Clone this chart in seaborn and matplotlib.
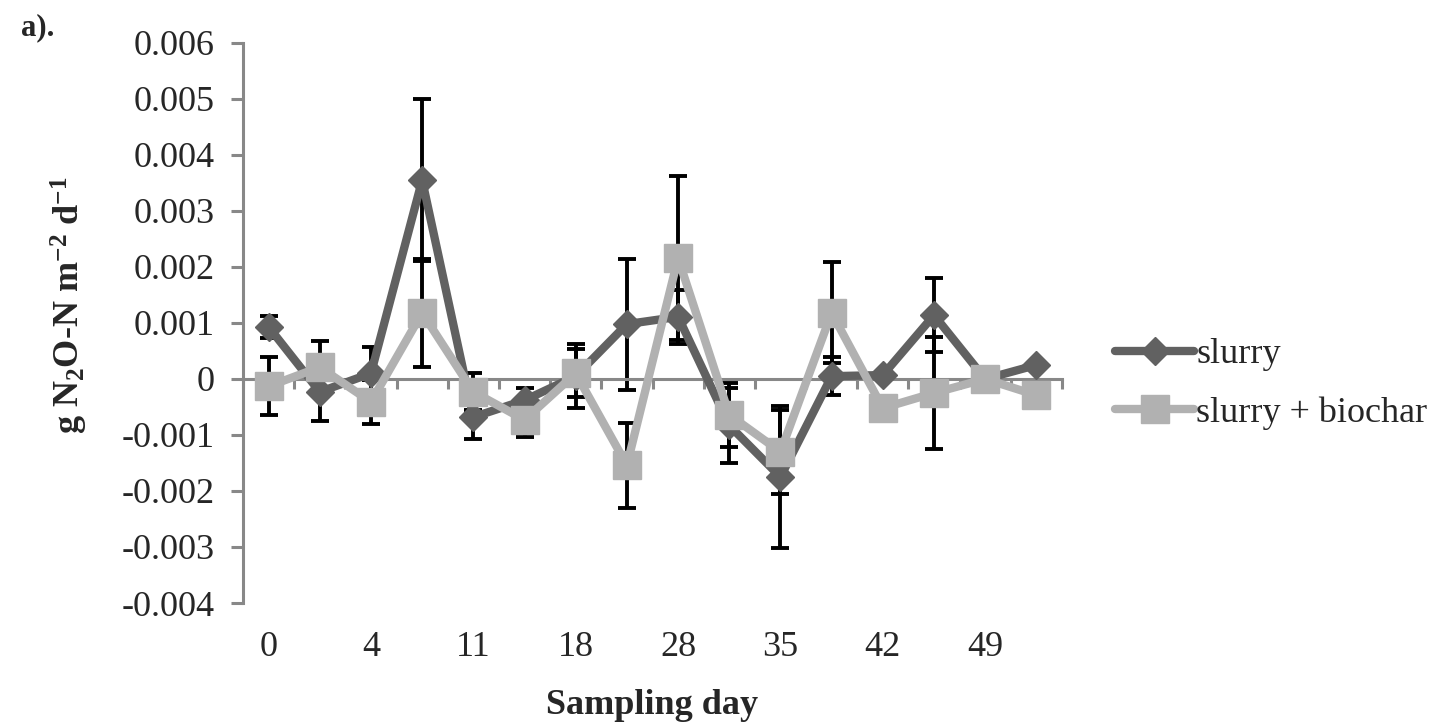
import numpy as np
import pandas as pd
import matplotlib
matplotlib.use("Agg")
import matplotlib.pyplot as plt
import seaborn as sns

########## Data ##########

# sampling day labels (only every second one is printed on the axis)
day_labels = ["0", "", "4", "", "11", "", "18", "", "28", "", "35", "", "42", "", "49", ""]

slurry = [0.00093, -0.00023, 0.00010, 0.00355, -0.00068, -0.00038, 0.00005, 0.00098,
          0.00111, -0.00083, -0.00175, 0.00005, 0.00007, 0.00114, 0.00000, 0.00025]
slurry_err = [0.00020, 0.00052, 0.00047, 0.00145, 0.00040, 0.00022, 0.00057, 0.00117,
              0.00048, 0.00067, 0.00127, 0.00034, 0.0, 0.00066, 0.0, 0.0]

biochar = [-0.00013, 0.00021, -0.00041, 0.00118, -0.00023, -0.00073, 0.00010, -0.00154,
           0.00216, -0.00064, -0.00130, 0.00118, -0.00052, -0.00025, 0.00000, -0.00029]
biochar_err = [0.00052, 0.00047, 0.00039, 0.00097, 0.00033, 0.00031, 0.00043, 0.00076,
               0.00146, 0.00057, 0.00075, 0.00090, 0.0, 0.00100, 0.0, 0.0]

y_ticks = [-0.004, -0.003, -0.002, -0.001, 0, 0.001, 0.002, 0.003, 0.004, 0.005, 0.006]
y_tick_labels = ["-0.004", "-0.003", "-0.002", "-0.001", "0", "0.001", "0.002",
                 "0.003", "0.004", "0.005", "0.006"]

########## Style ##########

sns.set_style("white")
plt.rcParams["font.family"] = ["Liberation Serif", "DejaVu Serif"]
plt.rcParams["mathtext.fontset"] = "custom"
plt.rcParams["mathtext.rm"] = "Liberation Serif"
plt.rcParams["mathtext.it"] = "Liberation Serif:italic"
plt.rcParams["mathtext.bf"] = "Liberation Serif:bold"
plt.rcParams["axes.unicode_minus"] = False
plt.rcParams["font.size"] = 26

axis_grey = "#888888"
dark = "#616161"
light = "#b1b1b1"

pos = np.arange(len(day_labels))
frame = pd.DataFrame({"pos": pos, "slurry": slurry, "biochar": biochar})

########## Plot ##########

fig, ax = plt.subplots(figsize=(14.4, 7.28), dpi=100)
fig.subplots_adjust(left=0.16875, right=0.7375, top=0.941, bottom=0.1717)

ax.errorbar(pos, slurry, yerr=slurry_err, fmt="none", ecolor="black",
            elinewidth=2.8, capsize=6.5, capthick=2.8, zorder=2)
ax.errorbar(pos, biochar, yerr=biochar_err, fmt="none", ecolor="black",
            elinewidth=2.8, capsize=6.5, capthick=2.8, zorder=2)

sns.lineplot(data=frame, x="pos", y="slurry", ax=ax, color=dark, linewidth=6,
             marker="D", markersize=14, markeredgecolor=dark, markeredgewidth=1,
             label="slurry", zorder=3)
sns.lineplot(data=frame, x="pos", y="biochar", ax=ax, color=light, linewidth=6,
             marker="s", markersize=20, markeredgecolor=light, markeredgewidth=1,
             label="slurry + biochar", zorder=4)

ax.set_xlim(-0.5, len(day_labels) - 0.5)
ax.set_ylim(-0.004, 0.006)

# axes lines: x axis crosses at zero, labels stay at the bottom
for side in ["top", "right"]:
    ax.spines[side].set_visible(False)
ax.spines["bottom"].set_position(("data", 0))
ax.spines["bottom"].set_color(axis_grey)
ax.spines["bottom"].set_linewidth(2.2)
ax.spines["left"].set_color(axis_grey)
ax.spines["left"].set_linewidth(2.2)

ax.set_xticks(np.arange(-0.5, len(day_labels), 1))
ax.set_xticklabels([])
ax.tick_params(axis="x", bottom=True, direction="out", length=7.5, width=2.2,
               color=axis_grey)
ax.set_xlabel("")

ax.set_yticks(y_ticks)
ax.set_yticklabels(y_tick_labels)
ax.tick_params(axis="y", left=True, direction="out", length=8.5, width=2.2,
               color=axis_grey, pad=12, labelsize=26)

sec = ax.secondary_xaxis("bottom")
sec.set_xticks(pos, labels=day_labels)
sec.tick_params(length=0, pad=20, labelsize=26)
sec.spines["bottom"].set_visible(False)
sec.set_xlabel("Sampling day", fontweight="bold", fontsize=26, labelpad=18)

ax.set_ylabel(r"g N$_\mathbf{2}$O-N m$^\mathbf{-2}$ d$^\mathbf{-1}$",
              fontweight="bold", fontsize=26)
ax.yaxis.set_label_coords(-0.187, 0.532)

ax.legend(loc="center left", bbox_to_anchor=(1.0647, 0.391), frameon=False,
          handlelength=2.2, handletextpad=0.05, labelspacing=0.7, borderpad=0,
          borderaxespad=0, fontsize=26)

fig.text(0.026, 0.962, "a).", fontweight="bold", fontsize=22, ha="center", va="center")

plt.savefig("out.png", dpi=100)
plt.close()
